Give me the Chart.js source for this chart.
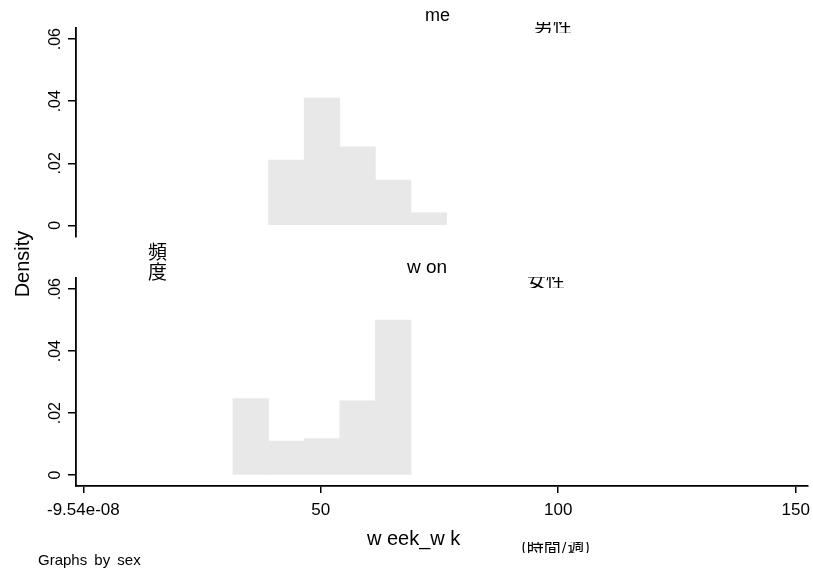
<!DOCTYPE html>
<html>
<head>
<meta charset="utf-8">
<script src="https://cdn.jsdelivr.net/npm/chart.js@4"></script>
<style>
  html, body { margin: 0; padding: 0; background: #fff; }
  #wrap { position: relative; width: 813px; height: 572px; overflow: hidden; font-family: "Liberation Sans", Arial, sans-serif; color: #000; }
  #wrap canvas { position: absolute; left: 0; top: 0; }
  #men { pointer-events: none; }
  .t { position: absolute; white-space: pre; line-height: 1; }
  .cjk { font-family: "Noto Sans CJK JP", "Noto Sans CJK SC", sans-serif; }
  .clip { position: absolute; overflow: hidden; }
  .clip span { position: absolute; left: 0; bottom: 0; line-height: 1; white-space: pre; }
</style>
</head>
<body>
<div id="wrap">
  <canvas id="women" width="813" height="572"></canvas>
  <canvas id="men" width="813" height="572"></canvas>

  <div class="t" style="left:425px; top:6px; font-size:18px;">me</div>
  <div class="clip cjk" style="left:534px; top:22px; width:60px; height:11px;"><span style="font-size:19px; bottom:-1px;">男性</span></div>

  <div class="t" style="left:407px; top:257px; font-size:19px;">w on</div>
  <div class="clip cjk" style="left:527px; top:277px; width:60px; height:11px;"><span style="font-size:19px; bottom:-1px;">女性</span></div>

  <div class="t cjk" style="left:148px; top:241px; font-size:19px; line-height:20px;">頻<br>度</div>

  <div class="t" style="left:22px; top:264px; font-size:20px; transform: translate(-50%, -50%) rotate(-90deg); transform-origin: center;">Density</div>

  <div class="t" style="left:367px; top:528px; font-size:20px;">w eek_w k</div>
  <div class="clip cjk" style="left:521px; top:542px; width:90px; height:11px;"><span style="font-size:17px; bottom:-1px;">(時間/週)</span></div>

  <div class="t" style="left:38px; top:552px; font-size:15px; word-spacing:3px;">Graphs by sex</div>
</div>

<script>
// histogram bins (midpoints, width 7.5 hrs) and densities
const menBins = [42.75, 50.25, 57.75, 65.25, 72.75];
const menDensity = [0.021, 0.041, 0.0253, 0.0146, 0.004];
const womenBins = [35.25, 42.75, 50.25, 57.75, 65.25];
const womenDensity = [0.0247, 0.011, 0.0118, 0.024, 0.050];

const xTickValues = [0, 50, 100, 150];
const xTickLabels = ['-9.54e-08', '50', '100', '150'];
const yTickValues = [0, 0.02, 0.04, 0.06];
const yTickLabels = ['0', '.02', '.04', '.06'];

const barFill = '#e8e8e8';
const xAxisHeight = 40;

// y tick labels are vertical like stata, so draw them ourselves
const verticalYLabels = {
    id: 'verticalYLabels',
    afterDraw(chart) {
        const s = chart.scales.y;
        const ctx = chart.ctx;
        ctx.save();
        ctx.font = '16px "Liberation Sans", Arial, sans-serif';
        ctx.fillStyle = '#000';
        ctx.textAlign = 'center';
        ctx.textBaseline = 'middle';
        s.ticks.forEach((t, i) => {
            const y = s.getPixelForValue(t.value);
            ctx.save();
            ctx.translate(s.right - 20, y);
            ctx.rotate(-Math.PI / 2);
            ctx.fillText(yTickLabels[i], 0, 0);
            ctx.restore();
        });
        ctx.restore();
    }
};

function makePanel(id, bins, density, area, yMin, yMax, showX) {
    const xH = showX ? xAxisHeight : 0;
    return new Chart(document.getElementById(id), {
        type: 'bar',
        data: {
            datasets: [{
                data: bins.map((b, i) => ({ x: b, y: density[i] })),
                backgroundColor: barFill,
                borderWidth: 0,
                barPercentage: 1,
                categoryPercentage: 1
            }]
        },
        options: {
            responsive: false,
            animation: false,
            devicePixelRatio: 1,
            layout: {
                padding: { left: area.left, top: area.top, right: 813 - area.right, bottom: 572 - area.bottom - xH }
            },
            plugins: { legend: { display: false }, tooltip: { enabled: false } },
            scales: {
                x: {
                    type: 'linear',
                    display: showX,
                    offset: false,
                    min: -1.55,
                    max: 152.6,
                    afterBuildTicks: s => { s.ticks = xTickValues.map(v => ({ value: v })); },
                    afterFit: s => { s.height = xH; s.paddingLeft = 0; s.paddingRight = 0; },
                    grid: { offset: false, drawOnChartArea: false, drawTicks: true, tickLength: 7, color: '#000', lineWidth: 1.5 },
                    border: { display: true, color: '#000', width: 1.8 },
                    ticks: {
                        autoSkip: false,
                        maxRotation: 0,
                        padding: 7,
                        color: '#000',
                        font: { family: '"Liberation Sans", Arial, sans-serif', size: 17 },
                        callback: (v) => xTickLabels[xTickValues.indexOf(v)]
                    }
                },
                y: {
                    type: 'linear',
                    min: yMin,
                    max: yMax,
                    afterBuildTicks: s => { s.ticks = yTickValues.map(v => ({ value: v })); },
                    afterFit: s => { s.width = 0; s.paddingTop = 0; s.paddingBottom = 0; },
                    grid: { drawOnChartArea: false, drawTicks: true, tickLength: 8, color: '#000', lineWidth: 1.5 },
                    border: { display: true, color: '#000', width: 1.8 },
                    ticks: { display: false }
                }
            }
        },
        plugins: [verticalYLabels]
    });
}

makePanel('men', menBins, menDensity, { left: 76, top: 28, right: 808, bottom: 237 }, -0.00377, 0.0636, false);
makePanel('women', womenBins, womenDensity, { left: 76, top: 278, right: 808, bottom: 486 }, -0.0035, 0.0636, true);
</script>
</body>
</html>
